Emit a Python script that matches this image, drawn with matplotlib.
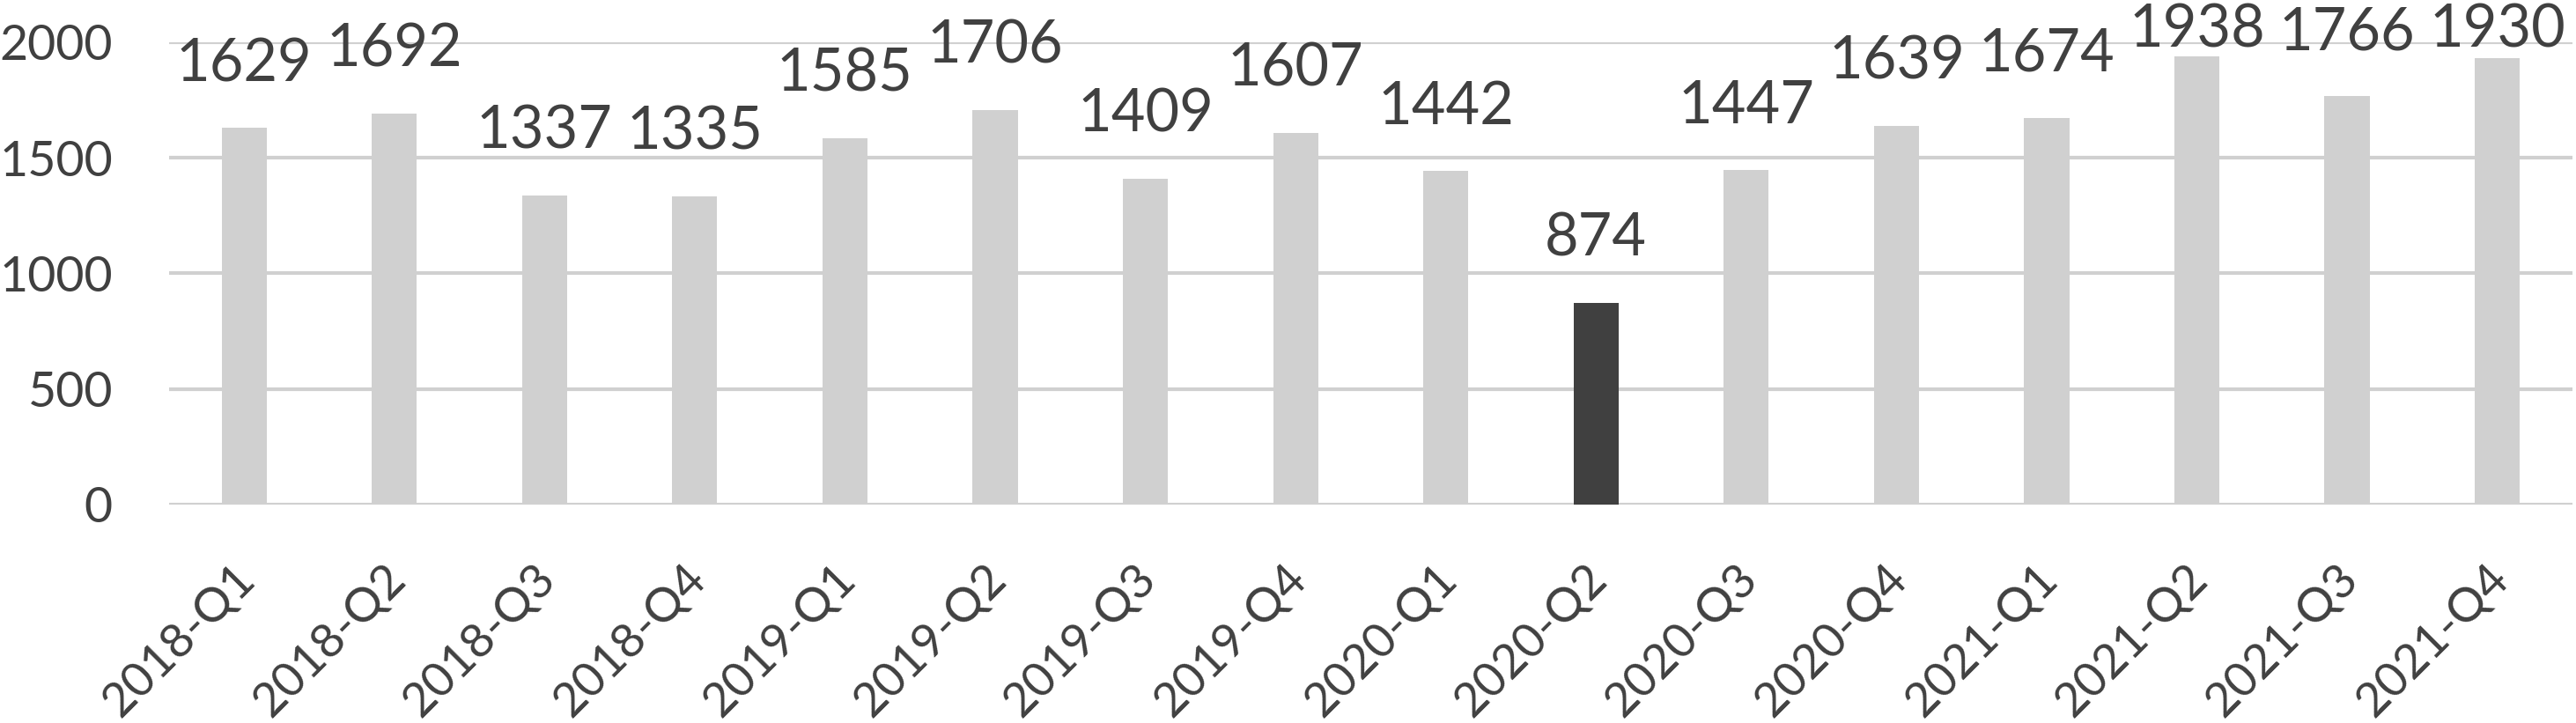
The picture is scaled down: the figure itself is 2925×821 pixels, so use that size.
import matplotlib.pyplot as plt
import matplotlib.transforms as mtransforms

# quarterly values
quarters = ['2018-Q1', '2018-Q2', '2018-Q3', '2018-Q4',
            '2019-Q1', '2019-Q2', '2019-Q3', '2019-Q4',
            '2020-Q1', '2020-Q2', '2020-Q3', '2020-Q4',
            '2021-Q1', '2021-Q2', '2021-Q3', '2021-Q4']
counts = [1629, 1692, 1337, 1335,
          1585, 1706, 1409, 1607,
          1442, 874, 1447, 1639,
          1674, 1938, 1766, 1930]
highlight = '2020-Q2'

text_color = '#404040'
plt.rcParams['font.family'] = ['Lato', 'DejaVu Sans']

fig = plt.figure(figsize=(29.25, 8.21), dpi=100)
ax = fig.add_axes([0.0656, 0.3021, 0.933, 0.6395])

colors = ['#404040' if q == highlight else '#d0d0d0' for q in quarters]
x = range(len(quarters))
bars = ax.bar(x, counts, width=0.3, color=colors, zorder=2)

# value labels above each bar, kept inside the plot area like Excel does
for rect, v in zip(bars, counts):
    ax.text(rect.get_x() + rect.get_width() / 2, min(v + 203, 1977), str(v),
            ha='center', va='baseline', fontsize=48, color=text_color)

ax.set_xlim(-0.5, len(quarters) - 0.5)
ax.set_ylim(0, 2000)
ax.set_yticks([0, 500, 1000, 1500, 2000])
ax.yaxis.grid(True, color='#d0d0d0', linewidth=3, zorder=0)
ax.set_axisbelow(True)
for s in ax.spines.values():
    s.set_visible(False)

ax.set_xticks(list(x))
ax.set_xticklabels(quarters, rotation=45, ha='right', va='center',
                   rotation_mode='anchor', fontsize=39, color=text_color)
ax.tick_params(axis='x', length=0, pad=0)
ax.tick_params(axis='y', length=0, pad=46, labelsize=40, labelcolor=text_color)

shift = mtransforms.ScaledTranslation(0.04, -0.76, fig.dpi_scale_trans)
for lbl in ax.get_xticklabels():
    lbl.set_transform(lbl.get_transform() + shift)

fig.savefig('out.png', dpi=100)
